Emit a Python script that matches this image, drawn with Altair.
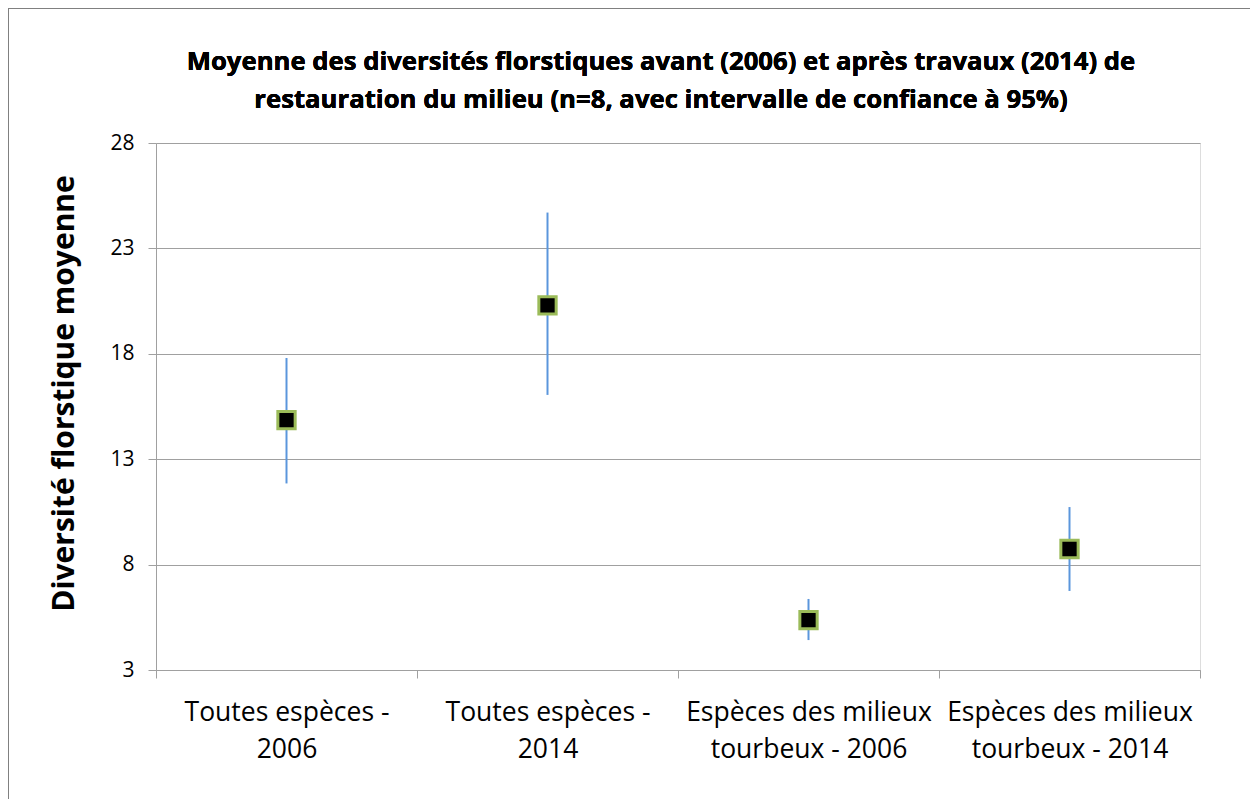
import altair as alt
import pandas as pd

categories = [
    "Toutes espèces -\n2006",
    "Toutes espèces -\n2014",
    "Espèces des milieux\ntourbeux - 2006",
    "Espèces des milieux\ntourbeux - 2014",
]
means = [14.85, 20.3, 5.37, 8.74]
ci_low = [11.85, 16.05, 4.42, 6.75]
ci_high = [17.8, 24.7, 6.37, 10.73]
y_ticks = [3, 8, 13, 18, 23, 28]
title_lines = [
    "Moyenne des diversités florstiques avant (2006) et après travaux (2014) de",
    "restauration du milieu (n=8, avec intervalle de confiance à 95%)",
]

df = pd.DataFrame({"cat": categories, "mean": means, "lo": ci_low, "hi": ci_high})

W, H = 1044, 527
FONT = "Open Sans"

x_axis = alt.Axis(
    title=None,
    labelAngle=0,
    labelExpr="split(datum.label, '\\n')",
    labelFontSize=26.5,
    labelFont=FONT,
    labelColor="#000000",
    labelLineHeight=37,
    labelPadding=21,
    labelLimit=0,
    tickBand="extent",
    tickSize=8,
    tickColor="#a0a0a0",
    domainColor="#a0a0a0",
    grid=False,
)
y_axis = alt.Axis(
    values=y_ticks,
    title="Diversité florstique moyenne",
    titleFont=FONT,
    titleFontSize=30,
    titleFontWeight="bold",
    titleColor="#000000",
    titlePadding=30,
    titleY=250,
    labelFont=FONT,
    labelFontSize=21,
    labelColor="#000000",
    labelPadding=14,
    tickSize=8,
    tickColor="#a0a0a0",
    domainColor="#a0a0a0",
    gridColor="#a0a0a0",
    gridWidth=1,
)

x_enc = alt.X("cat:N", sort=categories,
              scale=alt.Scale(paddingInner=0, paddingOuter=0), axis=x_axis)
y_scale = alt.Scale(domain=[3, 28], nice=False, zero=False)

bars = alt.Chart(df).mark_rule(color="#5b96dc", strokeWidth=2).encode(
    x=x_enc,
    y=alt.Y("lo:Q", scale=y_scale, axis=y_axis),
    y2="hi:Q",
)

points = alt.Chart(df).mark_square(
    size=300, fill="#000000", stroke="#9bbb59", strokeWidth=3, opacity=1
).encode(
    x=alt.X("cat:N", sort=categories, axis=x_axis),
    y=alt.Y("mean:Q", scale=y_scale, axis=y_axis),
)

frame = alt.Chart(df).mark_rect(
    fill=None, stroke="#808080", strokeWidth=1.5, clip=False
).encode(
    x=alt.value(-148),
    x2=alt.value(W + 200),
    y=alt.value(-135),
    y2=alt.value(H + 300),
)

title = alt.Chart(df).mark_text(
    font=FONT, fontSize=25.7, fontWeight="bold", color="#000000",
    align="center", baseline="alphabetic", lineHeight=38,
).encode(
    x=alt.value(661 - 156),
    y=alt.value(70 - 143),
    text=alt.value(title_lines),
)

chart = alt.layer(frame, bars, points, title).properties(
    width=W,
    height=H,
    autosize=alt.AutoSizeParams(type="none"),
    padding={"left": 148, "top": 135, "right": 50, "bottom": 129},
).configure_view(stroke=None).configure(background="#ffffff")

chart.save("out.html", embed_options={"renderer": "svg", "actions": False})
